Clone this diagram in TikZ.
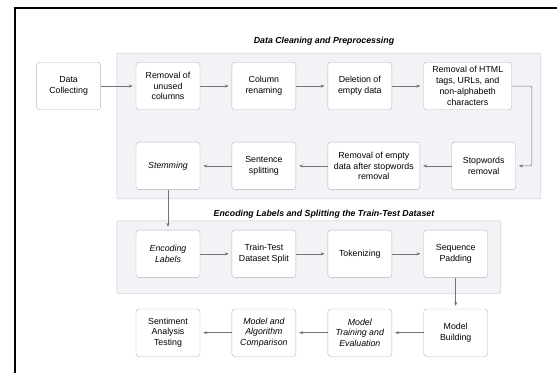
\documentclass[tikz,border=0pt]{standalone}
\usepackage{fontspec}
\setmainfont{Liberation Sans}
\usepackage{tikz}
\usetikzlibrary{arrows.meta, positioning, calc, backgrounds}
\definecolor{boxline}{RGB}{180, 180, 184}
\definecolor{grpfill}{RGB}{241, 243, 246}
\definecolor{grpline}{RGB}{198, 199, 203}
\definecolor{flow}{RGB}{115, 115, 118}

\begin{document}
\begin{tikzpicture}[
  x=1pt, y=-1pt,
  node distance=31.5pt and 31.5pt,
  box/.style={draw=boxline, rounded corners=3pt, fill=white, align=center,
              font=\fontsize{8.8}{10.8}\selectfont, inner sep=2pt,
              minimum width=64pt, minimum height=47.5pt},
  ibox/.style={box, font=\fontsize{8.8}{10.8}\selectfont\itshape},
  grp/.style={draw=grpline, fill=grpfill, rounded corners=2pt},
  ttl/.style={font=\fontsize{8.8}{10}\selectfont\bfseries\itshape, inner sep=1pt},
  arr/.style={-{Stealth[length=4pt, width=3pt]}, flow, line width=0.5pt, shorten >=3pt},
]
  \useasboundingbox (0,0) rectangle (557,373);
  \draw[line width=1.3pt] (557,8) -- (15,8) -- (15,373);

  % data cleaning row
  \node[box] (rmcol) at (168,86) {Removal of\\unused\\columns};
  \node[box, left=35pt of rmcol] (collect) {Data\\Collecting};
  \node[box, right=of rmcol] (rename) {Column\\renaming};
  \node[box, right=of rename] (delempty) {Deletion of\\empty data};
  \node[box, right=of delempty, minimum width=88pt] (rmhtml)
    {Removal of HTML\\tags, URLs, and\\non-alphabeth\\characters};
  \node[ibox, below=32pt of rmcol] (stem) {Stemming};
  \node[box, right=of stem] (split) {Sentence\\splitting};
  \node[box, right=of split, minimum width=92pt] (rmafter)
    {Removal of empty\\data after stopwords\\removal};
  \node[box, right=of rmafter] (stopw) {Stopwords\\removal};

  % encoding row
  \node[ibox, below=40pt of stem] (enc) {Encoding\\Labels};
  \node[box, right=of enc] (ttsplit) {Train-Test\\Dataset Split};
  \node[box, right=of ttsplit] (token) {Tokenizing};
  \node[box, right=of token] (pad) {Sequence\\Padding};

  % model row
  \node[box, below=31pt of pad] (build) {Model\\Building};
  \node[ibox, left=of build] (train) {Model\\Training and\\Evaluation};
  \node[ibox, left=of train] (compare) {Model and\\Algorithm\\Comparison};
  \node[box, left=of compare] (test) {Sentiment\\Analysis\\Testing};

  \node[ttl] (t1) at (324,41) {Data Cleaning and Preprocessing};
  \node[ttl] (t2) at (324,214) {Encoding Labels and Splitting the Train-Test Dataset};

  \begin{scope}[on background layer]
    \draw[grp] ($(rmcol.north west)+(-19,-9)$) rectangle ($(stopw.south east)+(25,9)$);
    \draw[grp] ($(enc.north west)+(-19,-9)$) rectangle ($(pad.south east)+(13,16)$);
  \end{scope}

  \draw[arr] (collect) -- (rmcol);
  \draw[arr] (rmcol) -- (rename);
  \draw[arr] (rename) -- (delempty);
  \draw[arr] (delempty) -- (rmhtml);
  \draw[arr, rounded corners=2pt] (rmhtml.east) -- ++(20,0) |- (stopw.east);
  \draw[arr] (stopw) -- (rmafter);
  \draw[arr] (rmafter) -- (split);
  \draw[arr] (split) -- (stem);
  \draw[arr] (stem) -- (enc);
  \draw[arr] (enc) -- (ttsplit);
  \draw[arr] (ttsplit) -- (token);
  \draw[arr] (token) -- (pad);
  \draw[arr] (pad) -- (build);
  \draw[arr] (build) -- (train);
  \draw[arr] (train) -- (compare);
  \draw[arr] (compare) -- (test);
\end{tikzpicture}
\end{document}
